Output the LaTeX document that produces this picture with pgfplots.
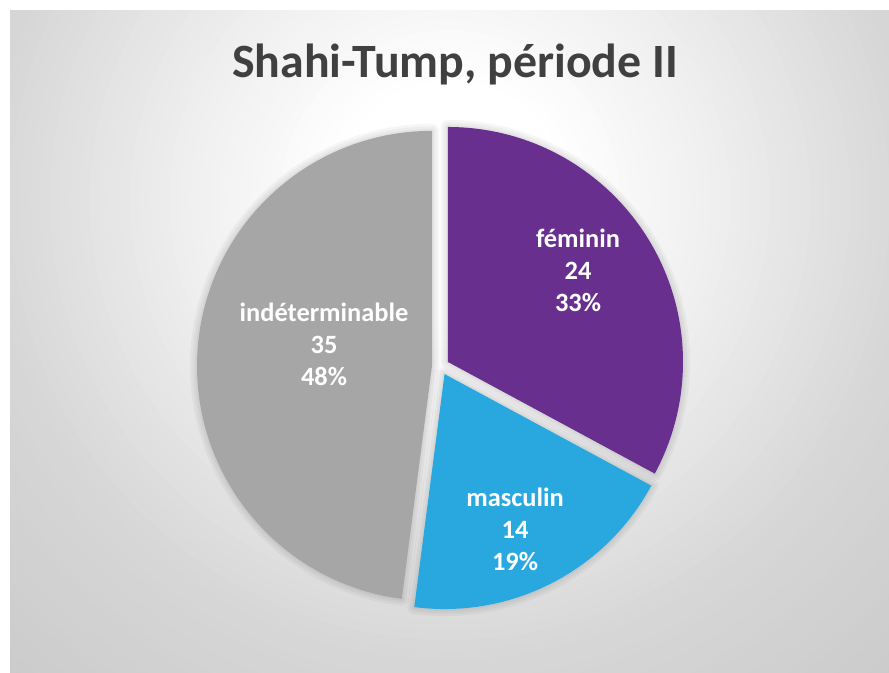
\documentclass[border=0pt]{standalone}
\usepackage{pgfplots}
\pgfplotsset{compat=1.18}
\usepackage{pgfplotstable}
\usepackage{fontspec}
\setmainfont{Carlito}
\definecolor{fem}{RGB}{104,47,142}
\definecolor{mas}{RGB}{41,168,224}
\definecolor{ind}{RGB}{166,166,166}
\definecolor{titlegray}{RGB}{64,64,64}
% pie data: label, value, colour, label position (x, baseline y of first line)
\pgfplotstableread{
label value col lx ly
féminin 24 fem 578 425
masculin 14 mas 515 166
indéterminable 35 ind 324 351
}\piedata
\begin{document}
\begin{tikzpicture}
\begin{axis}[hide axis, scale only axis, width=889bp, height=673bp,
  xmin=0, xmax=889, ymin=0, ymax=673, clip=false, anchor=south west, at={(0,0)}]
\addplot[draw=none, forget plot] coordinates {(0,0) (889,673)};
\pgfplotsextra{
  \fill[black!21] (axis cs:-30,-30) rectangle (axis cs:920,703);
  \begin{scope}
    \clip (axis cs:10,-30) rectangle (axis cs:920,663);
    \foreach \R in {760,750,...,100}{
      \pgfmathsetmacro\g{\R<300 ? 1-max(\R-120,0)*0.000433 : (\R<460 ? 0.922-(\R-300)*0.000488 : max(0.78,0.843-(\R-460)*0.00025))}
      \definecolor{bgtmp}{gray}{\g}
      \fill[bgtmp] (axis cs:450,473) circle[radius=\R bp];
    }
  \end{scope}
  \fill[white] (axis cs:-30,-30) rectangle (axis cs:10,703);
  \fill[white] (axis cs:-30,663) rectangle (axis cs:920,703);
  \node[anchor=base, text=titlegray, font=\fontsize{48}{54}\selectfont\bfseries]
     at (axis cs:455,595) {Shahi-Tump, période II};
  \pgfmathsetmacro\cx{440.6}
  \pgfmathsetmacro\cy{306.6}
  \pgfmathsetmacro\total{0}
  \foreach \i in {0,1,2}{
    \pgfplotstablegetelem{\i}{value}\of\piedata
    \pgfmathsetmacro\total{\total+\pgfplotsretval}
    \xdef\total{\total}
  }
  % soft shadow halo
  \gdef\cum{0}
  \foreach \i in {0,1,2}{
    \pgfplotstablegetelem{\i}{value}\of\piedata \let\v\pgfplotsretval
    \pgfmathsetmacro\a{90-360*\cum/\total}
    \pgfmathsetmacro\b{\a-360*\v/\total}
    \pgfmathsetmacro\m{(\a+\b)/2}
    \pgfmathsetmacro\sx{\cx+8.6*cos(\m)}
    \pgfmathsetmacro\sy{\cy+8.6*sin(\m)}
    \foreach \w in {14,9,4}{
      \draw[black, line width=\w bp, opacity=0.035, line join=round]
        (axis cs:\sx,\sy) -- ++(\a:235bp) arc[start angle=\a, end angle=\b, radius=235bp] -- cycle;
    }
    \pgfmathsetmacro\newcum{\cum+\v}
    \xdef\cum{\newcum}
  }
  \gdef\cum{0}
  \foreach \i in {0,1,2}{
    \pgfplotstablegetelem{\i}{value}\of\piedata \let\v\pgfplotsretval
    \pgfplotstablegetelem{\i}{col}\of\piedata \let\c\pgfplotsretval
    \pgfplotstablegetelem{\i}{label}\of\piedata \let\lab\pgfplotsretval
    \pgfplotstablegetelem{\i}{lx}\of\piedata \let\lx\pgfplotsretval
    \pgfplotstablegetelem{\i}{ly}\of\piedata \let\ly\pgfplotsretval
    \pgfmathsetmacro\a{90-360*\cum/\total}
    \pgfmathsetmacro\b{\a-360*\v/\total}
    \pgfmathsetmacro\m{(\a+\b)/2}
    \pgfmathsetmacro\sx{\cx+8.6*cos(\m)}
    \pgfmathsetmacro\sy{\cy+8.6*sin(\m)}
    \fill[\c] (axis cs:\sx,\sy) -- ++(\a:235bp) arc[start angle=\a, end angle=\b, radius=235bp] -- cycle;
    \pgfmathsetmacro\pct{round(100*\v/\total)}
    \pgfmathtruncatemacro\pcti{\pct}
    \pgfmathsetmacro\lyb{\ly-32}
    \pgfmathsetmacro\lyc{\ly-64}
    \node[anchor=base, text=white, font=\fontsize{26.5}{31}\selectfont\bfseries] at (axis cs:\lx,\ly) {\lab};
    \node[anchor=base, text=white, font=\fontsize{26.5}{31}\selectfont\bfseries] at (axis cs:\lx,\lyb) {\v};
    \node[anchor=base, text=white, font=\fontsize{26.5}{31}\selectfont\bfseries] at (axis cs:\lx,\lyc) {\pcti\%};
    \pgfmathsetmacro\newcum{\cum+\v}
    \xdef\cum{\newcum}
  }
}
\end{axis}
\pgfresetboundingbox
\path[use as bounding box] (0,0) rectangle (889bp,673bp);
\end{tikzpicture}
\end{document}
